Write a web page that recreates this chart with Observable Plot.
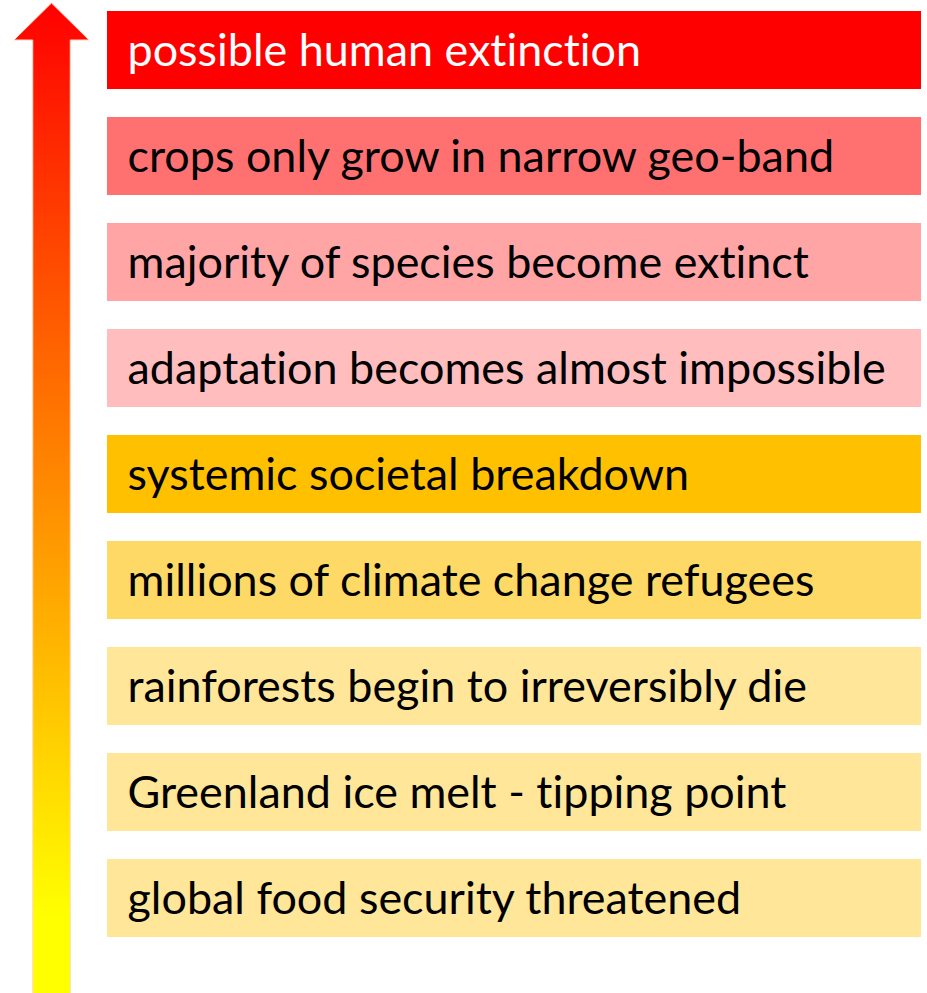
<!DOCTYPE html>
<html>
<head>
<meta charset="utf-8">
<script src="https://cdn.jsdelivr.net/npm/d3@7"></script>
<script src="https://cdn.jsdelivr.net/npm/@observablehq/plot@0.6"></script>
<style>
  html, body { margin: 0; padding: 0; background: #fff; }
  #chart svg { display: block; }
  #chart text { font-variant-ligatures: none; font-feature-settings: "liga" 0, "clig" 0; }
</style>
</head>
<body>
<div id="chart"></div>
<script>
// Levels, top (most severe) to bottom
const levels = [
  "possible human extinction",
  "crops only grow in narrow geo-band",
  "majority of species become extinct",
  "adaptation becomes almost impossible",
  "systemic societal breakdown",
  "millions of climate change refugees",
  "rainforests begin to irreversibly die",
  "Greenland ice melt - tipping point",
  "global food security threatened"
];
const fills = ["#FF0000", "#FF7171", "#FFA5A5", "#FFBDBD", "#FFC000", "#FFD966", "#FFE699", "#FFE699", "#FFE699"];
const textColors = ["#FFFFFF", "#000000", "#000000", "#000000", "#000000", "#000000", "#000000", "#000000", "#000000"];

const data = levels.map((label, i) => ({label, fill: fills[i], color: textColors[i]}));

const W = 927, H = 993;
const FONT = "Lato, 'Open Sans', sans-serif";

// fit font size so the longest label matches the reference width
const cnv = document.createElement("canvas").getContext("2d");
cnv.font = "100px Lato";
const longest = d3.max(levels, l => cnv.measureText(l).width);
const fontSize = Math.round(100 * 759 / longest * 10) / 10;

// decorative gradient arrow on the left, drawn from the plot's layout
function arrowMark(index, scales, values, dimensions) {
  const svgNS = "http://www.w3.org/2000/svg";
  const g = document.createElementNS(svgNS, "g");
  const defs = document.createElementNS(svgNS, "defs");
  const grad = document.createElementNS(svgNS, "linearGradient");
  grad.setAttribute("id", "arrowGrad");
  grad.setAttribute("x1", "0"); grad.setAttribute("y1", "0");
  grad.setAttribute("x2", "0"); grad.setAttribute("y2", "1");
  [["0%", "#FF0000"], ["45%", "#FF8000"], ["92%", "#FFFF00"], ["100%", "#FFFF00"]].forEach(([o, c]) => {
    const s = document.createElementNS(svgNS, "stop");
    s.setAttribute("offset", o); s.setAttribute("stop-color", c);
    grad.appendChild(s);
  });
  defs.appendChild(grad);
  g.appendChild(defs);
  const left = dimensions.marginLeft;
  const cx = left - 55.5;           // arrow axis
  const shaftHalf = 18.75, headHalf = 37.5;
  const tip = 3, headBase = 40, bottom = dimensions.height + 2;
  const pts = [
    [cx, tip], [cx + headHalf, headBase], [cx + shaftHalf, headBase], [cx + shaftHalf, bottom],
    [cx - shaftHalf, bottom], [cx - shaftHalf, headBase], [cx - headHalf, headBase]
  ];
  const path = document.createElementNS(svgNS, "path");
  path.setAttribute("d", "M" + pts.map(p => p.join(",")).join("L") + "Z");
  path.setAttribute("fill", "url(#arrowGrad)");
  path.setAttribute("stroke", "#FFD8C0");
  path.setAttribute("stroke-width", "1");
  g.appendChild(path);
  return g;
}

const chart = Plot.plot({
  width: W,
  height: H,
  marginTop: 11,
  marginBottom: 56,
  marginLeft: 107,
  marginRight: 6,
  style: {fontFamily: FONT, background: "#fff"},
  x: {domain: [0, 1], axis: null},
  y: {type: "band", domain: levels, paddingInner: 0.264, paddingOuter: 0, round: false, axis: null},
  marks: [
    arrowMark,
    Plot.barX(data, {x1: 0, x2: 1, y: "label", fill: d => d.fill}),
    Plot.text(data, {
      x: 0, y: "label", text: "label", dx: 20, textAnchor: "start",
      fill: d => d.color, fontSize: fontSize, fontFamily: FONT, lineAnchor: "middle", dy: 1
    })
  ]
});
document.getElementById("chart").appendChild(chart);
</script>
</body>
</html>
